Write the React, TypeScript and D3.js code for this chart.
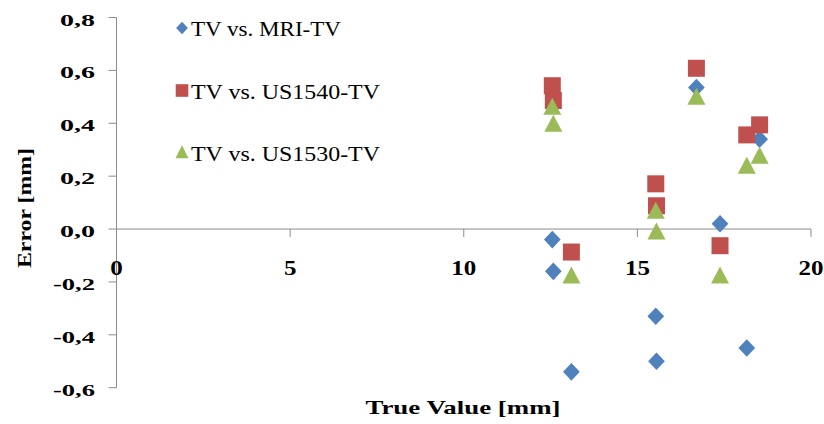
import React from "react";
import * as d3 from "d3";

const trueValues = [12.55, 12.58, 13.1, 15.53, 15.55, 16.7, 17.38, 18.15, 18.52];
const mriErrors = [-0.04, -0.16, -0.54, -0.33, -0.5, 0.535, 0.02, -0.45, 0.34];
const us1540Errors = [0.542, 0.486, -0.087, 0.171, 0.088, 0.608, -0.063, 0.356, 0.394];
const us1530Errors = [0.458, 0.394, -0.18, 0.065, -0.014, 0.496, -0.18, 0.235, 0.273];
const seriesNames = ["TV vs. MRI-TV", "TV vs. US1540-TV", "TV vs. US1530-TV"];
const xTicks = [0, 5, 10, 15, 20];
const yTicks = [-0.6, -0.4, -0.2, 0, 0.2, 0.4, 0.6, 0.8];

const colors = ["#4F81BD", "#C0504D", "#9BBB59"];

const W = 824;
const H = 424;

const charW = (s: string, digit: number, comma: number, minus: number) =>
  s.split("").reduce((a, c) => a + (c === "," ? comma : c === "-" ? minus : digit), 0);

export default function App() {
  const x = d3.scaleLinear().domain([0, 20]).range([116.5, 811]);
  const y = d3.scaleLinear().domain([-0.6, 0.8]).range([387.7, 17.5]);
  const serif = "Liberation Serif";
  const axisColor = "#8C8C8C";
  const seriesData = [mriErrors, us1540Errors, us1530Errors];

  const markerPath = (i: number, big: boolean) => {
    if (i === 0) {
      const r = big ? 8.8 : 6.2;
      return `M0,${-r}L${r * 0.95},0L0,${r}L${-r * 0.95},0Z`;
    }
    if (i === 1) {
      const s = big ? 8.5 : 6.3;
      return `M${-s},${-s}H${s}V${s}H${-s}Z`;
    }
    const w = big ? 9 : 6.5;
    const h = big ? 17 : 13;
    return `M0,${-h * 0.6}L${w},${h * 0.4}L${-w},${h * 0.4}Z`;
  };

  const fmt = (v: number) => d3.format(".1f")(v).replace(".", ",").replace("−", "-");

  return (
    <svg width={W} height={H} style={{ position: "absolute", left: 0, top: 0, background: "#fff" }}>
      {/* y axis */}
      <line x1={x(0)} x2={x(0)} y1={y(0.8)} y2={y(-0.6)} stroke={axisColor} strokeWidth={1} />
      {yTicks.map((t) => {
        const s = fmt(t);
        return (
          <g key={"yt" + t}>
            <line x1={x(0) - 8} x2={x(0)} y1={y(t)} y2={y(t)} stroke={axisColor} />
            <text
              x={95}
              y={y(t) + 8}
              textAnchor="end"
              fontFamily={serif}
              fontWeight="bold"
              fontSize={16}
              textLength={charW(s, 13, 9, 7)}
              lengthAdjust="spacingAndGlyphs"
              fill="#000"
            >
              {s}
            </text>
          </g>
        );
      })}
      {/* x axis */}
      <line x1={x(0)} x2={x(20)} y1={y(0)} y2={y(0)} stroke={axisColor} strokeWidth={1} />
      {xTicks.map((t) => {
        const s = String(t);
        return (
          <g key={"xt" + t}>
            <line x1={x(t)} x2={x(t)} y1={y(0)} y2={y(0) + 8} stroke={axisColor} />
            <text
              x={x(t)}
              y={275}
              textAnchor="middle"
              fontFamily={serif}
              fontWeight="bold"
              fontSize={21}
              textLength={charW(s, 12.5, 8, 7)}
              lengthAdjust="spacingAndGlyphs"
              fill="#000"
            >
              {s}
            </text>
          </g>
        );
      })}
      {/* axis titles */}
      <text
        x={463}
        y={414}
        textAnchor="middle"
        fontFamily={serif}
        fontWeight="bold"
        fontSize={19}
        textLength={195}
        lengthAdjust="spacingAndGlyphs"
      >
        True Value [mm]
      </text>
      <text
        transform={`translate(31,208) rotate(-90)`}
        textAnchor="middle"
        fontFamily={serif}
        fontWeight="bold"
        fontSize={19}
        textLength={120}
        lengthAdjust="spacingAndGlyphs"
      >
        Error [mm]
      </text>
      {/* points */}
      {seriesData.map((vals, si) => (
        <g key={"s" + si} fill={colors[si]}>
          {vals.map((v, i) => (
            <path key={i} d={markerPath(si, true)} transform={`translate(${x(trueValues[i])},${y(v)})`} />
          ))}
        </g>
      ))}
      {/* legend */}
      {seriesNames.map((name, i) => {
        const cy = 28 + i * 62.5;
        return (
          <g key={"lg" + i}>
            <path d={markerPath(i, false)} transform={`translate(182,${cy})`} fill={colors[i]} />
            <text
              x={191}
              y={cy + 8}
              fontFamily={serif}
              fontSize={21}
              textLength={i === 0 ? 150 : 189}
              lengthAdjust="spacingAndGlyphs"
              fill="#000"
            >
              {name}
            </text>
          </g>
        );
      })}
    </svg>
  );
}
